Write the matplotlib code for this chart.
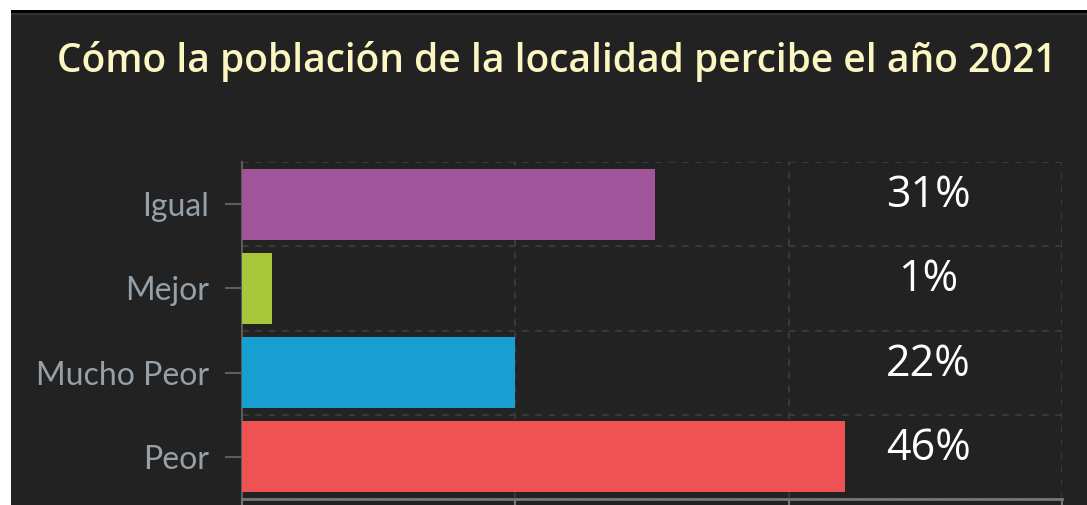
import matplotlib.pyplot as plt
from matplotlib.patches import Rectangle
import numpy as np

categories = ['Igual', 'Mejor', 'Mucho Peor', 'Peor']
counts = [30.2, 2.2, 20.0, 44.1]
pct_labels = ['31%', '1%', '22%', '46%']
bar_colors = ['#a0559b', '#a8c639', '#169fd0', '#ee5253']
title = 'Cómo la población de la localidad percibe el año 2021'

BG = '#222222'
W, H = 1087, 505

fig = plt.figure(figsize=(W / 100, H / 100), dpi=100, facecolor=BG)

# white margin on left/top and the dark strip under it
fig.add_artist(Rectangle((0, 0), 11 / W, 1, transform=fig.transFigure, color='white', lw=0))
fig.add_artist(Rectangle((0, (H - 10) / H), 1, 10 / H, transform=fig.transFigure, color='white', lw=0))
fig.add_artist(Rectangle((11 / W, (H - 13) / H), 1, 3 / H, transform=fig.transFigure, color='black', lw=0))
fig.add_artist(Rectangle((11 / W, (H - 15) / H), 1, 2 / H, transform=fig.transFigure, color='#333333', lw=0))

fig.text(557 / W, (H - 72) / H, title, ha='center', va='baseline',
         color='#fcf6c2', fontsize=28, fontweight='semibold',
         family=['Open Sans', 'DejaVu Sans'])

ax = fig.add_axes([242 / W, 6 / H, 820 / W, 337 / H])
ax.set_facecolor(BG)

y = np.arange(len(categories))
ax.barh(y, counts, height=0.84, color=bar_colors, zorder=3)
ax.set_ylim(3.5, -0.5)
ax.set_xlim(0, 60)
ax.set_xticks([0, 20, 40, 60])
ax.set_xticklabels([])
ax.set_yticks(y)
ax.set_yticklabels(categories, color='#95a0a8', fontsize=23, family='Lato')
ax.set_yticks(np.arange(-0.5, 4, 1), minor=True)

ax.grid(which='major', axis='x', color='#3e3e3e', ls=(0, (4, 4)), lw=1.2, zorder=0)
ax.grid(which='minor', axis='y', color='#3e3e3e', ls=(0, (4, 4)), lw=1.2, zorder=0)
ax.tick_params(which='minor', length=0)
ax.tick_params(axis='y', which='major', length=12, width=1.5, color='#5e5e5e', pad=12)
ax.tick_params(axis='x', which='major', length=12, width=1.5, color='#777777')

for s in ['top', 'right']:
    ax.spines[s].set_visible(False)
ax.spines['left'].set_color('#5a5a5a')
ax.spines['left'].set_linewidth(1.5)
ax.spines['bottom'].set_color('#777777')
ax.spines['bottom'].set_linewidth(2)

for i, lab in enumerate(pct_labels):
    ax.annotate(lab, xy=(0.8366, i), xycoords=ax.get_yaxis_transform(),
                xytext=(0, 6), textcoords='offset points',
                ha='center', va='center', color='white', fontsize=31,
                family='Open Sans')

fig.savefig('out.png', dpi=100, facecolor=BG)
